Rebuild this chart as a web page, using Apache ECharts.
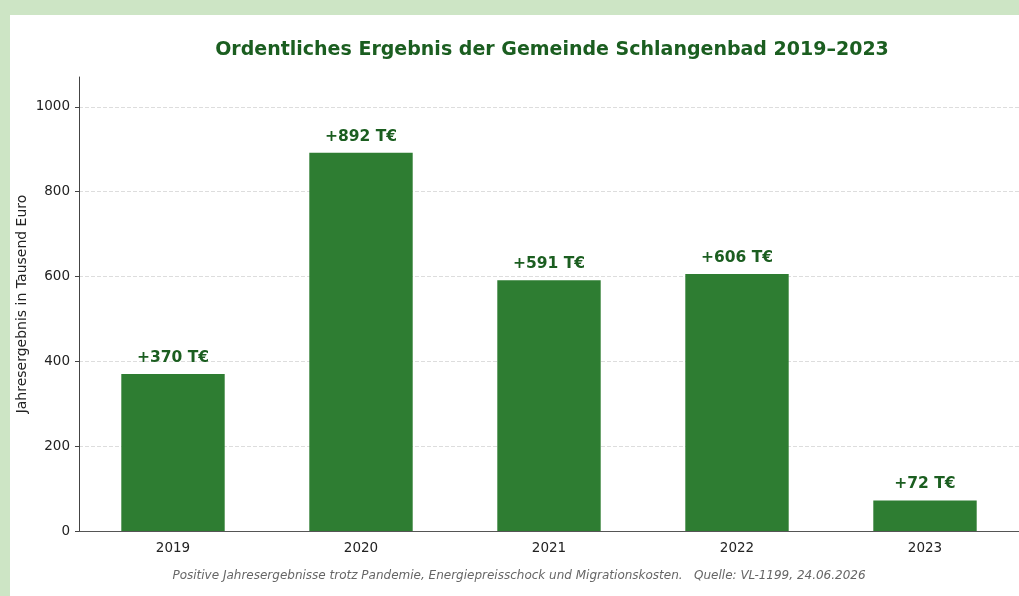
<!DOCTYPE html>
<html lang="de">

<head>
    <meta charset="UTF-8">
    <title>Ordentliches Ergebnis Schlangenbad</title>
    <script src="https://cdnjs.cloudflare.com/ajax/libs/echarts/6.0.0/echarts.min.js"></script>
    <style>
        body { margin: 0; background: #cde5c5; }
        #panel { position: absolute; left: 10px; top: 15px; right: 0; bottom: 0; background: #fff; }
        #main { position: absolute; left: 0; top: 0; width: 1019px; height: 596px; }
    </style>
</head>

<body>
    <div id="panel"></div>
    <div id="main"></div>
    <script>
        // Daten
        const years = ["2019", "2020", "2021", "2022", "2023"];
        const ergebnis = [370, 892, 591, 606, 72];
        const yTickMax = 1000;
        const yTickStep = 200;

        const chart = echarts.init(document.getElementById('main'));
        const font = "DejaVu Sans";

        // Achse geht bis 120% vom Maximum, Ticks aber nur bis 1000
        const yMax = Math.max(...ergebnis) * 1.2;
        const plotTop = 77, plotH = 454;
        const tickTop = plotTop + plotH * (1 - yTickMax / yMax);

        let option = {
            backgroundColor: 'transparent',
            textStyle: { fontFamily: font },
            title: [
                {
                    text: "Ordentliches Ergebnis der Gemeinde Schlangenbad 2019–2023",
                    left: 547,
                    textAlign: 'center',
                    top: 36,
                    textStyle: { color: "#1b5e20", fontSize: 19, fontWeight: 'bold', fontFamily: font }
                },
                {
                    text: "Positive Jahresergebnisse trotz Pandemie, Energiepreisschock und Migrationskosten.   Quelle: VL-1199, 24.06.2026",
                    left: 514,
                    textAlign: 'center',
                    top: 565,
                    textStyle: { color: "#666", fontSize: 12, fontStyle: 'italic', fontWeight: 'normal', fontFamily: font }
                }
            ],
            grid: [
                { left: 79, top: plotTop, width: 945, height: plotH },
                { left: 79, top: tickTop, width: 945, height: plotTop + plotH - tickTop }
            ],
            xAxis: [
                {
                    type: 'category',
                    data: years,
                    gridIndex: 0,
                    axisLine: { lineStyle: { color: "#555" } },
                    axisTick: { alignWithLabel: true, length: 4, lineStyle: { color: "#555" } },
                    axisLabel: { color: "#222", fontSize: 13.5, margin: 10 }
                },
                { type: 'category', data: years, gridIndex: 1, show: false }
            ],
            yAxis: [
                {
                    type: 'value',
                    gridIndex: 0,
                    min: 0,
                    max: yMax,
                    name: "Jahresergebnis in Tausend Euro",
                    nameLocation: 'middle',
                    nameGap: 50,
                    nameTextStyle: { color: "#222", fontSize: 14 },
                    axisLine: { show: true, lineStyle: { color: "#444" } },
                    axisTick: { show: false },
                    axisLabel: { show: false },
                    splitLine: { show: false }
                },
                {
                    type: 'value',
                    gridIndex: 1,
                    min: 0,
                    max: yTickMax,
                    interval: yTickStep,
                    axisLine: { show: false },
                    axisTick: { show: true, length: 4, lineStyle: { color: "#444" } },
                    axisLabel: { color: "#222", fontSize: 13.5, margin: 9, formatter: (v) => String(v) },
                    splitLine: { lineStyle: { color: "#dddddd", type: 'dashed' } }
                }
            ],
            series: [
                {
                    type: 'bar',
                    data: ergebnis,
                    xAxisIndex: 0,
                    yAxisIndex: 0,
                    barWidth: '55%',
                    itemStyle: { color: "#2e7d32" },
                    label: {
                        show: true,
                        position: 'top',
                        distance: 8,
                        formatter: (p) => "+" + p.value + " T€",
                        color: "#1b5e20",
                        fontSize: 15.5,
                        fontWeight: 'bold'
                    },
                    z: 3
                }
            ]
        };

        chart.setOption(option);
    </script>
</body>

</html>
